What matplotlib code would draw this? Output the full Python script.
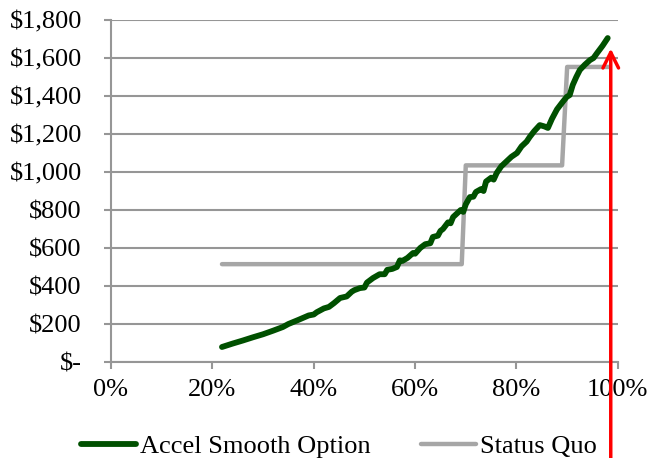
import matplotlib
matplotlib.use("Agg")
import matplotlib.pyplot as plt
from matplotlib.ticker import FuncFormatter

# Data
accel_x = [0.219, 0.24, 0.26, 0.28, 0.30, 0.32, 0.339, 0.35, 0.37, 0.39, 0.40, 0.406, 0.42, 0.43, 0.44,
           0.452, 0.465, 0.475, 0.48, 0.491, 0.50, 0.505, 0.517, 0.53, 0.54, 0.545, 0.555, 0.564, 0.57, 0.575, 0.585,
           0.596, 0.60, 0.61, 0.615, 0.62, 0.63, 0.635, 0.645, 0.65, 0.655, 0.665, 0.67, 0.675, 0.69, 0.695, 0.70, 0.708,
           0.715, 0.72, 0.73, 0.735, 0.74, 0.75, 0.755, 0.761, 0.77, 0.78, 0.79, 0.801, 0.81, 0.82, 0.826,
           0.835, 0.846, 0.855, 0.862, 0.87, 0.88, 0.89, 0.899, 0.905, 0.911, 0.918,
           0.925, 0.935, 0.945, 0.952, 0.959, 0.97, 0.98]
accel_y = [79, 97, 113, 130, 146, 165, 184, 200, 222, 245, 250, 262, 282, 290, 310,
           337, 345, 370, 378, 389, 392, 418, 442, 462, 462, 485, 490, 500, 535, 532, 548,
           574, 570, 600, 610, 620, 625, 658, 665, 690, 700, 735, 730, 763, 800, 790, 830, 868,
           870, 895, 910, 900, 950, 970, 960, 995, 1030, 1055, 1080, 1100, 1135, 1160, 1184,
           1215, 1247, 1240, 1232, 1280, 1330, 1365, 1395, 1405, 1458, 1500,
           1537, 1565, 1589, 1600, 1626, 1665, 1705]

status_x = [0.219, 0.692, 0.70, 0.89, 0.90, 0.982]
status_y = [515, 515, 1035, 1035, 1553, 1553]

y_ticks = [0, 200, 400, 600, 800, 1000, 1200, 1400, 1600, 1800]
x_ticks = [0.0, 0.2, 0.4, 0.6, 0.8, 1.0]
arrow_x = 0.986
arrow_tip = 1650

plt.rcParams['font.family'] = ['Liberation Serif', 'DejaVu Serif']

fig = plt.figure(figsize=(6.49, 4.58), dpi=100)
ax = fig.add_axes([0.171, 0.2096, 0.781, 0.7467])

grid_c = '#969696'
ax.set_xlim(0, 1)
ax.set_ylim(0, 1800)
ax.set_yticks(y_ticks)
ax.set_xticks(x_ticks)
ax.yaxis.grid(True, color=grid_c, lw=1.5)
ax.set_axisbelow(True)
for s in ['top', 'right']:
    ax.spines[s].set_visible(False)
for s in ['left', 'bottom']:
    ax.spines[s].set_color(grid_c)
    ax.spines[s].set_linewidth(1.5)
ax.tick_params(axis='both', colors=grid_c, width=1.5, length=5, labelsize=19,
               labelcolor='black')
ax.tick_params(axis='x', pad=7)
ax.tick_params(axis='y', pad=16)

ax.yaxis.set_major_formatter(FuncFormatter(lambda v, p: '$-' if v == 0 else '${:,.0f}'.format(v)))
ax.xaxis.set_major_formatter(FuncFormatter(lambda v, p: '{:.0f}%'.format(v * 100)))

ax.plot(accel_x, accel_y, color='#005000', lw=4.2, solid_capstyle='round',
        solid_joinstyle='round', label='Accel Smooth Option', zorder=3)
ax.plot(status_x, status_y, color='#a6a6a6', lw=3.2, solid_capstyle='round',
        label='Status Quo', zorder=2)

ax.annotate('', xy=(arrow_x, arrow_tip), xycoords='data',
            xytext=(arrow_x, -0.02), textcoords=('data', 'figure fraction'),
            arrowprops=dict(arrowstyle='->', color='red', lw=2.5, mutation_scale=28,
                            shrinkA=0, shrinkB=0),
            annotation_clip=False, zorder=5)

leg = fig.legend(loc='center', bbox_to_anchor=(0.522, 0.025), ncol=2, frameon=False,
                 fontsize=19, handlelength=2.1, handletextpad=0.15, columnspacing=1.9)

fig.savefig('out.png', dpi=100)
